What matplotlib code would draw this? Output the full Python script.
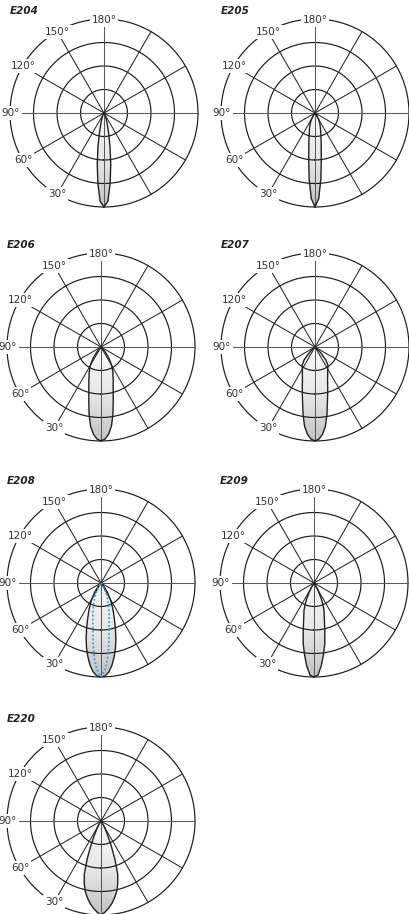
####### IMPORT LIBRARIES #######
import numpy as np
import matplotlib
matplotlib.use("Agg")
import matplotlib.pyplot as plt
from matplotlib.colors import LinearSegmentedColormap

####### DATA #######
# beam angle (deg from nadir) and relative intensity
ANGLES = [0, 2.5, 5, 7.5, 10, 12.5, 15, 17.5, 20, 22.5, 25, 27.5, 30, 35, 40, 45, 50, 60, 90]

E204 = [1.0, 0.94, 0.75, 0.55, 0.37, 0.24, 0.15, 0.10, 0.07, 0.05, 0.03, 0.02, 0.01, 0, 0, 0, 0, 0, 0]
E205 = [1.0, 0.91, 0.71, 0.51, 0.38, 0.30, 0.24, 0.20, 0.17, 0.14, 0.12, 0.09, 0.07, 0.03, 0, 0, 0, 0, 0]
E206 = [1.0, 0.98, 0.93, 0.85, 0.73, 0.60, 0.50, 0.43, 0.38, 0.33, 0.30, 0.26, 0.23, 0.15, 0.07, 0.02, 0, 0, 0]
E207 = [1.0, 0.98, 0.93, 0.85, 0.73, 0.61, 0.52, 0.45, 0.39, 0.35, 0.32, 0.29, 0.27, 0.24, 0.18, 0.08, 0.02, 0, 0]
E208 = [1.0, 0.99, 0.95, 0.885, 0.80, 0.71, 0.61, 0.51, 0.42, 0.35, 0.29, 0.24, 0.19, 0.11, 0.05, 0.01, 0, 0, 0]
E208_INNER = [1.0, 0.93, 0.81, 0.65, 0.49, 0.40, 0.33, 0.27, 0.22, 0.18, 0.14, 0.11, 0.08, 0.03, 0, 0, 0, 0, 0]
E209 = [1.0, 0.98, 0.885, 0.77, 0.66, 0.53, 0.43, 0.36, 0.31, 0.25, 0.18, 0.11, 0.06, 0.01, 0, 0, 0, 0, 0]
E220 = [1.0, 0.97, 0.93, 0.885, 0.83, 0.77, 0.69, 0.59, 0.43, 0.28, 0.17, 0.10, 0.06, 0.02, 0, 0, 0, 0, 0]

PRODUCTS = ["E204", "E205", "E206", "E207", "E208", "E209", "E220"]
CURVES = [E204, E205, E206, E207, E208, E209, E220]
INNER = {"E208": E208_INNER}

LABEL_ANGLES = [180, 150, 120, 90, 60, 30]
LABELS = ["180°", "150°", "120°", "90°", "60°", "30°"]

####### LAYOUT #######
W, H = 409, 914
RING_PX = 94            # pixel radius of the outer ring
RMAX = 4                # outer ring in radial units
RLIM = 4.25
CENTERS = [(104, 113), (315, 113), (101, 347), (315, 347),
           (101, 583), (314, 583), (101, 821)]

GRAD = LinearSegmentedColormap.from_list("lobe", ["#f8f8f8", "#e8e8e8", "#c2c2c2"])


def mirror(vals):
    # symmetric curve, -90..90 deg
    a = np.array(ANGLES, dtype=float)
    v = np.array(vals, dtype=float) * RMAX
    th = np.radians(np.concatenate([-a[::-1], a[1:]]))
    r = np.concatenate([v[::-1], v[1:]])
    return th, r


def draw_panel(cx, cy, name, curve, inner=None):
    ax_px = RING_PX * RLIM / RMAX
    ax = fig.add_axes([(cx - ax_px) / W, 1 - (cy + ax_px) / H,
                       2 * ax_px / W, 2 * ax_px / H], projection="polar")
    ax.set_theta_zero_location("S")
    ax.set_theta_direction(-1)
    ax.set_rlim(0, RLIM)
    ax.set_axis_off()

    # lobe with vertical gradient
    th, r = mirror(curve)
    s = np.linspace(0, 1, 16)[:, None]
    TH = np.repeat(th[None, :], len(s), axis=0)
    R = s * r[None, :]
    ax.pcolormesh(TH, R, R * np.cos(TH), shading="gouraud", cmap=GRAD,
                  vmin=0, vmax=RMAX, zorder=1)

    # grid
    circ = np.linspace(0, 2 * np.pi, 361)
    for rr in [1, 2, 3, 4]:
        ax.plot(circ, np.full_like(circ, rr), color="#1a1a1a", lw=0.85, zorder=2)
    for a in range(0, 360, 30):
        col = "#5a5a5a" if a % 90 == 0 else "#262626"
        ax.plot([np.radians(a)] * 2, [0, RMAX], color=col, lw=0.75, zorder=2)

    ax.plot(th, r, color="#222222", lw=1.0, zorder=4)
    if inner is not None:
        ti, ri = mirror(inner)
        ax.plot(ti, ri, color="#1fa8e6", lw=1.3, ls=(0, (1, 1.2)), zorder=5)

    for a, lab in zip(LABEL_ANGLES, LABELS):
        ax.text(np.radians(a), 3.97, lab, ha="center", va="center", fontsize=7.5,
                color="#333333", zorder=6,
                bbox=dict(boxstyle="square,pad=0.18", fc="white", ec="none"))

    fig.text((cx - 94.5) / W, 1 - (cy - 102) / H, name, ha="left", va="center",
             fontsize=7.5, fontweight="bold", fontstyle="italic", color="#222222")


####### PLOT #######
fig = plt.figure(figsize=(W / 100, H / 100), dpi=100)
fig.patch.set_facecolor("white")

for (cx, cy), name, curve in zip(CENTERS, PRODUCTS, CURVES):
    draw_panel(cx, cy, name, curve, INNER.get(name))

fig.savefig("out.png", dpi=100, facecolor="white")
